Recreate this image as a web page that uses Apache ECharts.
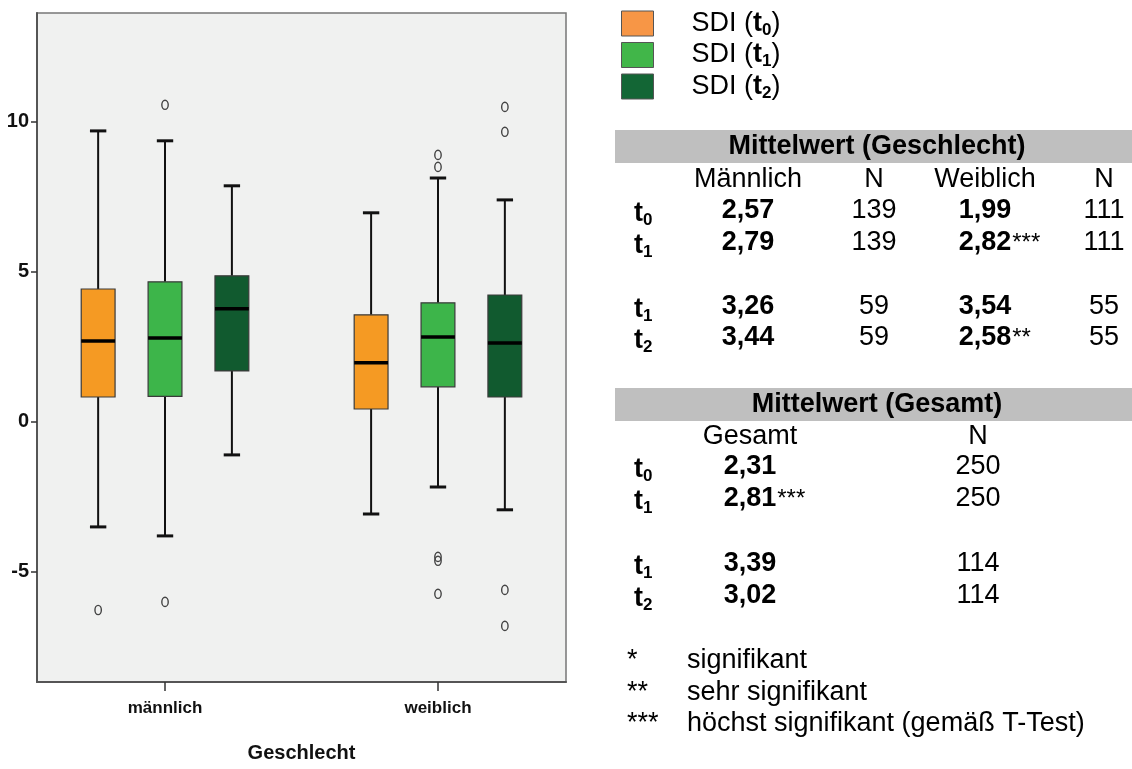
<!DOCTYPE html>
<html><head><meta charset="utf-8">
<script src="https://cdn.jsdelivr.net/npm/echarts@6/dist/echarts.min.js"></script>
<style>html,body{margin:0;padding:0;background:#fff}#c{width:1132px;height:769px}</style>
</head><body><div id="c"></div>
<script>
// ---------- DATA ----------
const categories = ['männlich', 'weiblich'];
const seriesNames = ['SDI (t0)', 'SDI (t1)', 'SDI (t2)'];
const subIndex = ['0', '1', '2'];
// [min, Q1, median, Q3, max] per category (männlich, weiblich)
const boxT0 = [[-3.5, 0.83, 2.7, 4.43, 9.7], [-3.07, 0.43, 1.97, 3.57, 6.97]];
const boxT1 = [[-3.8, 0.85, 2.8, 4.67, 9.37], [-2.17, 1.17, 2.83, 3.97, 8.13]];
const boxT2 = [[-1.1, 1.7, 3.77, 4.87, 7.87], [-2.93, 0.83, 2.63, 4.23, 7.4]];
// outliers [categoryIndex, value]
const outT0 = [[0, -6.27]];
const outT1 = [[0, 10.57], [0, -6.0], [1, 8.9], [1, 8.5], [1, -4.5], [1, -4.63], [1, -5.73]];
const outT2 = [[1, 10.5], [1, 9.67], [1, -5.6], [1, -6.8]];
const yTicks = [-5, 0, 5, 10];
const xTicks = [1, 2];

// table: Mittelwert (Geschlecht)
const table1Title = 'Mittelwert (Geschlecht)';
const table1Header = ['Männlich', 'N', 'Weiblich', 'N'];
const table1RowSub = ['0', '1', '1', '2'];
const maleMean = ['2,57', '2,79', '3,26', '3,44'];
const maleN = ['139', '139', '59', '59'];
const femaleMean = ['1,99', '2,82', '3,54', '2,58'];
const femaleSig = ['', '***', '', '**'];
const femaleN = ['111', '111', '55', '55'];
// table: Mittelwert (Gesamt)
const table2Title = 'Mittelwert (Gesamt)';
const table2Header = ['Gesamt', 'N'];
const table2RowSub = ['0', '1', '1', '2'];
const totalMean = ['2,31', '2,81', '3,39', '3,02'];
const totalSig = ['', '***', '', ''];
const totalN = ['250', '250', '114', '114'];
// significance legend
const sigMarks = ['*', '**', '***'];
const sigTexts = ['signifikant', 'sehr signifikant', 'höchst signifikant (gemäß T-Test)'];

// ---------- STYLE ----------
const boxColors = ['#f59a23', '#3db54a', '#115a2f'];
const legendColors = ['#f79646', '#41b649', '#136635'];
const FONT = '"Liberation Sans", Arial, sans-serif';
const GROUP_STEP = 0.245, BOX_HALF = 0.062, CAP_HALF = 0.03;

function boxRenderer(k, color) {
  return function (params, api) {
    const xc = api.value(0) + 1 + (k - 1) * GROUP_STEP;
    const X = v => api.coord([v, 0])[0];
    const Y = v => api.coord([xc, v])[1];
    const xl = X(xc - BOX_HALF), xr = X(xc + BOX_HALF), xm = X(xc);
    const cl = X(xc - CAP_HALF), cr = X(xc + CAP_HALF);
    const yMin = Y(api.value(1)), yQ1 = Y(api.value(2)), yMed = Y(api.value(3)),
          yQ3 = Y(api.value(4)), yMax = Y(api.value(5));
    return { type: 'group', children: [
      { type: 'line', shape: { x1: xm, y1: yQ3, x2: xm, y2: yMax }, style: { stroke: '#111', lineWidth: 2 } },
      { type: 'line', shape: { x1: xm, y1: yQ1, x2: xm, y2: yMin }, style: { stroke: '#111', lineWidth: 2 } },
      { type: 'line', shape: { x1: cl, y1: yMax, x2: cr, y2: yMax }, style: { stroke: '#111', lineWidth: 3 } },
      { type: 'line', shape: { x1: cl, y1: yMin, x2: cr, y2: yMin }, style: { stroke: '#111', lineWidth: 3 } },
      { type: 'rect', shape: { x: xl, y: yQ3, width: xr - xl, height: yQ1 - yQ3 }, style: { fill: color, stroke: '#3a3a3a', lineWidth: 1.2 } },
      { type: 'line', shape: { x1: xl, y1: yMed, x2: xr, y2: yMed }, style: { stroke: '#000', lineWidth: 3.5 } }
    ] };
  };
}
function outlierRenderer(k) {
  return function (params, api) {
    const xc = api.value(0) + 1 + (k - 1) * GROUP_STEP;
    const p = api.coord([xc, api.value(1)]);
    return { type: 'ellipse', shape: { cx: p[0], cy: p[1], rx: 3.2, ry: 4.6 }, style: { fill: 'none', stroke: '#444', lineWidth: 1.4 } };
  };
}

const boxes = [boxT0, boxT1, boxT2];
const outs = [outT0, outT1, outT2];
const series = [];
boxes.forEach((b, k) => {
  series.push({ name: seriesNames[k], type: 'custom', renderItem: boxRenderer(k, boxColors[k]),
    itemStyle: { color: legendColors[k] },
    encode: { x: 0, y: [1, 2, 3, 4, 5] }, data: b.map((r, i) => [i].concat(r)) });
});
outs.forEach((o, k) => {
  series.push({ name: seriesNames[k], type: 'custom', renderItem: outlierRenderer(k),
    encode: { x: 0, y: 1 }, data: o });
});

// ---------- TEXT HELPERS ----------
const ctx = document.createElement('canvas').getContext('2d');
function textWidth(t, font) { ctx.font = font; return ctx.measureText(t).width; }
const richSub = {
  b: { fontFamily: FONT, fontWeight: 'bold', fontSize: 27, lineHeight: 30, color: '#000' },
  n: { fontFamily: FONT, fontSize: 27, lineHeight: 30, color: '#000' },
  s: { fontFamily: FONT, fontWeight: 'bold', fontSize: 17, lineHeight: 17, verticalAlign: 'bottom', color: '#000' }
};
const graphics = [];
function txt(t, x, y, opt) {
  opt = opt || {};
  graphics.push({ type: 'text', x: x, y: y, silent: true, style: {
    text: t, fill: '#000', align: opt.align || 'center', verticalAlign: 'middle',
    font: (opt.bold ? 'bold ' : '') + (opt.size || 27) + 'px ' + FONT } });
}
function rowLabel(sub, x, y) {
  graphics.push({ type: 'text', x: x, y: y, silent: true, style: {
    text: '{b|t}{s|' + sub + '}', rich: richSub, align: 'left', verticalAlign: 'middle' } });
}
function meanWithSig(val, sig, x, y) {
  txt(val, x, y, { bold: true });
  if (sig) {
    const w = textWidth(val, 'bold 27px ' + FONT);
    txt(sig, x + w / 2 + 1, y, { align: 'left', size: 24 });
  }
}

// Table 1
graphics.push({ type: 'rect', silent: true, shape: { x: 615, y: 130, width: 517, height: 33 }, style: { fill: '#bfbfbf' } });
txt(table1Title, 877, 147, { bold: true });
const t1Cols = [748, 874, 985, 1104];
table1Header.forEach((h, i) => txt(h, t1Cols[i], 180));
const t1Rows = [211, 243, 307, 338];
t1Rows.forEach((y, r) => {
  rowLabel(table1RowSub[r], 634, y + 3);
  meanWithSig(maleMean[r], '', t1Cols[0], y);
  txt(maleN[r], t1Cols[1], y);
  meanWithSig(femaleMean[r], femaleSig[r], t1Cols[2], y);
  txt(femaleN[r], t1Cols[3], y);
});
// Table 2
graphics.push({ type: 'rect', silent: true, shape: { x: 615, y: 388, width: 517, height: 33 }, style: { fill: '#bfbfbf' } });
txt(table2Title, 877, 405, { bold: true });
const t2Cols = [750, 978];
table2Header.forEach((h, i) => txt(h, t2Cols[i], 437));
const t2Rows = [467, 499, 564, 596];
t2Rows.forEach((y, r) => {
  rowLabel(table2RowSub[r], 634, y + 3);
  meanWithSig(totalMean[r], totalSig[r], t2Cols[0], y);
  txt(totalN[r], t2Cols[1], y);
});
// significance notes
const sigRows = [661, 693, 724];
sigRows.forEach((y, r) => {
  txt(sigMarks[r], 627, y, { align: 'left' });
  txt(sigTexts[r], 687, y, { align: 'left' });
});

// ---------- CHART ----------
const chart = echarts.init(document.getElementById('c'));
chart.setOption({
  animation: false,
  backgroundColor: '#fff',
  grid: { left: 37, top: 13, width: 529, height: 669, show: true, backgroundColor: '#f0f1f0', borderColor: '#777', borderWidth: 1.5 },
  legend: {
    left: 616, top: 5, orient: 'vertical', itemWidth: 32, itemHeight: 25, itemGap: 3,
    icon: 'rect', selectedMode: false,
    data: seriesNames.map((n, k) => ({ name: n, itemStyle: { color: legendColors[k], borderColor: '#555', borderWidth: 1 } })),
    formatter: name => '{n|SDI (}{b|t}{s|' + subIndex[seriesNames.indexOf(name)] + '}{n|)}',
    textStyle: { padding: [0, 0, 0, 33], rich: richSub }
  },
  xAxis: {
    type: 'value', min: 0.531, max: 2.469,
    splitLine: { show: false },
    axisLine: { show: true, onZero: false, lineStyle: { color: '#555', width: 2 } },
    axisTick: { show: true, customValues: xTicks, length: 9, lineStyle: { color: '#333', width: 1.5 } },
    axisLabel: { customValues: xTicks, formatter: v => categories[Math.round(v) - 1], margin: 18,
      fontFamily: FONT, fontWeight: 'bold', fontSize: 17, color: '#111' },
    name: 'Geschlecht', nameLocation: 'middle', nameGap: 61,
    nameTextStyle: { fontFamily: FONT, fontWeight: 'bold', fontSize: 20, color: '#111' }
  },
  yAxis: {
    type: 'value', min: -8.67, max: 13.63,
    splitLine: { show: false },
    axisLine: { show: true, onZero: false, lineStyle: { color: '#555', width: 2 } },
    axisTick: { show: true, customValues: yTicks, length: 6, lineStyle: { color: '#333', width: 1.5 } },
    axisLabel: { customValues: yTicks, margin: 8, fontFamily: FONT, fontWeight: 'bold', fontSize: 20, color: '#111' }
  },
  series: series,
  graphic: graphics
});
</script>
</body></html>
